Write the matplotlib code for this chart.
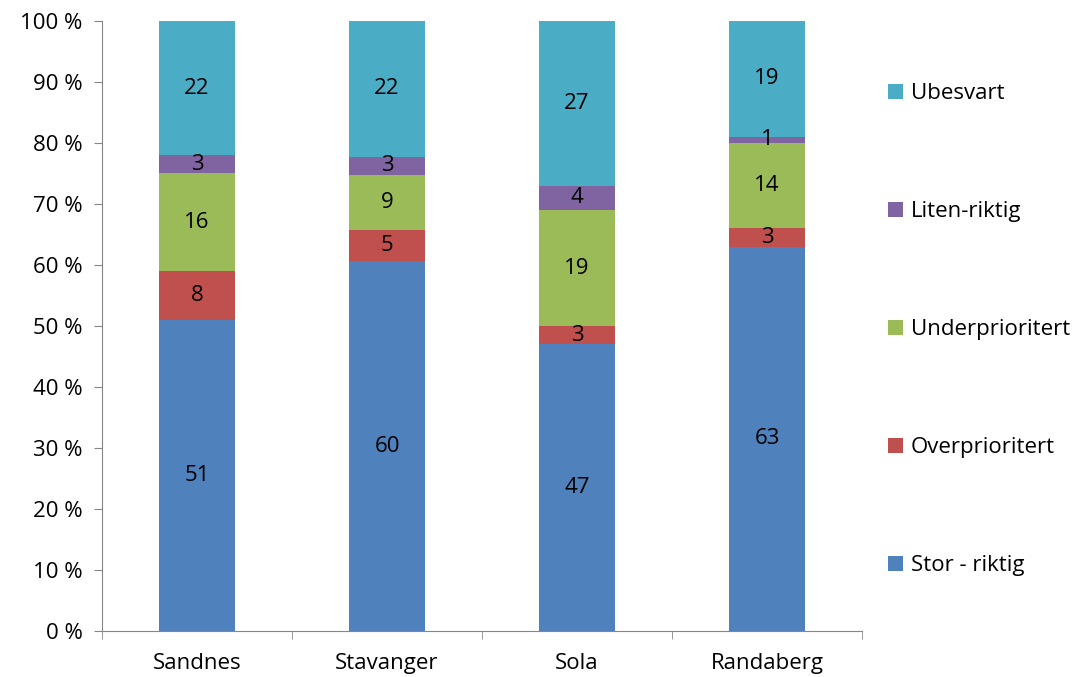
import matplotlib
matplotlib.use("Agg")
import matplotlib.pyplot as plt
import numpy as np

plt.rcParams['font.family'] = ['Open Sans', 'DejaVu Sans']

kommuner = ['Sandnes', 'Stavanger', 'Sola', 'Randaberg']
serier = ['Stor - riktig', 'Overprioritert', 'Underprioritert', 'Liten-riktig', 'Ubesvart']
verdier = {
    'Stor - riktig':   [51, 60, 47, 63],
    'Overprioritert':  [8, 5, 3, 3],
    'Underprioritert': [16, 9, 19, 14],
    'Liten-riktig':    [3, 3, 4, 1],
    'Ubesvart':        [22, 22, 27, 19],
}
farger = ['#4F81BD', '#C0504D', '#9BBB59', '#8064A2', '#4BACC6']

fs = 16

fig = plt.figure(figsize=(10.78, 6.77), dpi=100)
ax = fig.add_axes([102 / 1078, 46 / 677, 760 / 1078, 610 / 677])

data = np.array([verdier[s] for s in serier], dtype=float)
andel = data / data.sum(axis=0) * 100
x = np.arange(len(kommuner))
bunn = np.zeros(len(kommuner))
for i, s in enumerate(serier):
    ax.bar(x, andel[i], 0.4, bottom=bunn, color=farger[i], label=s)
    for j in range(len(kommuner)):
        ax.text(x[j], bunn[j] + andel[i][j] / 2, f'{int(data[i][j])}',
                ha='center', va='center', fontsize=fs, color='black')
    bunn += andel[i]

ax.set_xlim(-0.5, len(kommuner) - 0.5)
ax.set_ylim(0, 100)
ax.set_yticks(np.arange(0, 101, 10))
ax.set_yticklabels([f'{v} %' for v in range(0, 101, 10)], fontsize=fs)
ax.set_xticks(x)
ax.set_xticklabels(kommuner, fontsize=fs)
ax.tick_params(axis='x', length=0, pad=16)
ax.set_xticks(np.arange(-0.5, len(kommuner)), minor=True)
ax.tick_params(axis='x', which='minor', length=6, color='#868686')
ax.tick_params(axis='y', length=6, color='#868686', pad=8)
for side in ['top', 'right']:
    ax.spines[side].set_visible(False)
for side in ['left', 'bottom']:
    ax.spines[side].set_color('#868686')

handles, labels = ax.get_legend_handles_labels()
leg = fig.legend(handles[::-1], labels[::-1], loc='upper left',
                 bbox_to_anchor=(868 / 1078, 1 - 63 / 677), frameon=False,
                 fontsize=fs, handlelength=0.68, handleheight=0.68,
                 handletextpad=0.35, labelspacing=4.37)

fig.savefig('out.png', dpi=100)
